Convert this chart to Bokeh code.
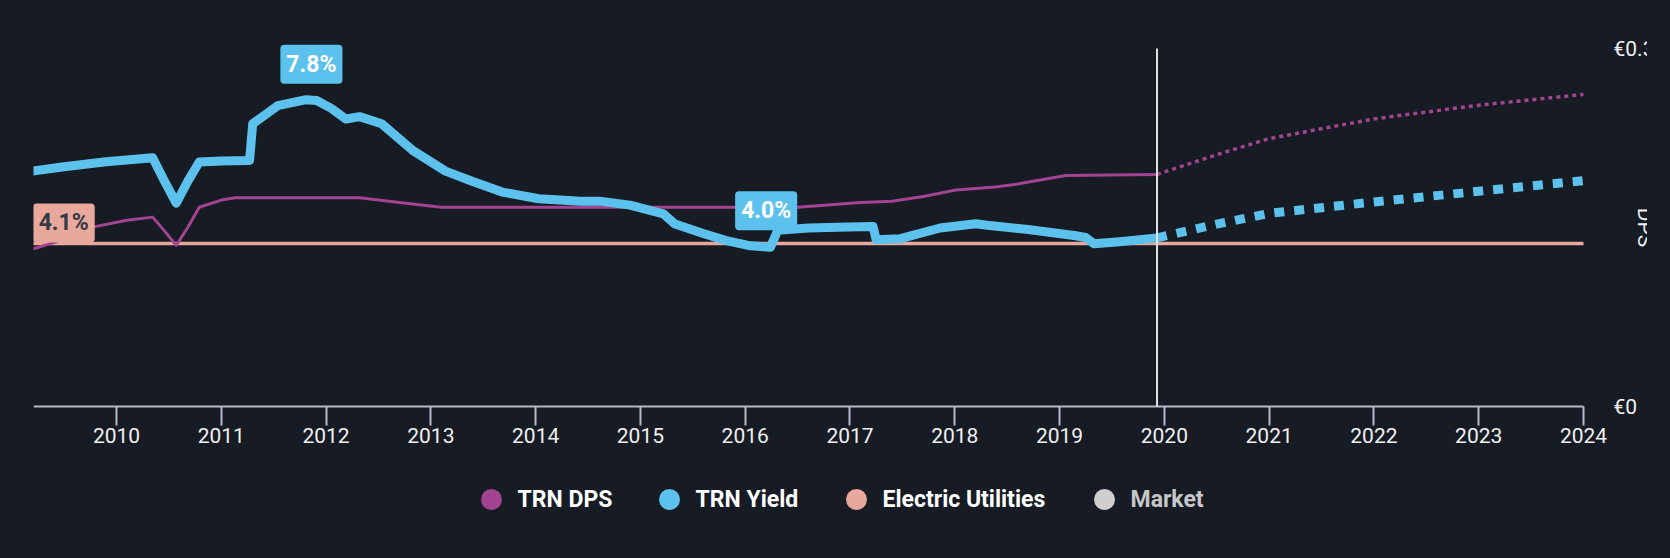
import math
from bokeh.plotting import figure
from bokeh.models import Range1d, FixedTicker, Label
from bokeh.layouts import column
from bokeh.embed import file_html
from bokeh.resources import INLINE
from bokeh.core.properties import value

# ---------------- data ----------------
yield_years = [2009.20, 2009.50, 2009.90, 2010.345, 2010.45, 2010.57, 2010.68, 2010.79, 2011.00,
               2011.27, 2011.30, 2011.54, 2011.81, 2011.91, 2012.05, 2012.19, 2012.32, 2012.53,
               2012.83, 2013.14, 2013.40, 2013.68, 2014.03, 2014.43, 2014.61, 2014.90, 2015.22,
               2015.33, 2015.60, 2015.82, 2016.05, 2016.24, 2016.31, 2016.60, 2016.88, 2017.22,
               2017.25, 2017.48, 2017.86, 2018.20, 2018.31, 2018.70, 2019.14, 2019.25, 2019.33,
               2019.60, 2019.93]
yield_vals = [5.96, 6.07, 6.20, 6.30, 5.75, 5.15, 5.70, 6.19, 6.22,
              6.23, 7.16, 7.62, 7.77, 7.75, 7.55, 7.28, 7.34, 7.16,
              6.48, 5.96, 5.70, 5.43, 5.26, 5.20, 5.20, 5.10, 4.88,
              4.62, 4.38, 4.20, 4.07, 4.03, 4.46, 4.52, 4.54, 4.56,
              4.22, 4.25, 4.52, 4.63, 4.59, 4.48, 4.33, 4.28, 4.12,
              4.18, 4.27]

yield_fc_years = [2019.93, 2020.5, 2021.0, 2022.0, 2023.0, 2024.0]
yield_fc_vals = [4.27, 4.62, 4.89, 5.18, 5.45, 5.72]

dps_years = [2009.20, 2009.42, 2009.77, 2010.10, 2010.345, 2010.45, 2010.57, 2010.68, 2010.79,
             2011.00, 2011.13, 2012.32, 2012.70, 2013.10, 2016.50, 2017.10, 2017.40, 2017.70,
             2018.01, 2018.39, 2018.61, 2019.06, 2019.93]
dps_vals = [0.132, 0.1377, 0.1503, 0.156, 0.1587, 0.148, 0.135, 0.150, 0.167,
            0.173, 0.175, 0.175, 0.171, 0.167, 0.167, 0.171, 0.172, 0.176,
            0.1815, 0.184, 0.1866, 0.1936, 0.1945]

dps_fc_years = [2019.93, 2020.5, 2021.0, 2022.0, 2023.0, 2024.0]
dps_fc_vals = [0.1945, 0.211, 0.2245, 0.241, 0.2525, 0.2615]

industry_years = [2009.20, 2024.0]
industry_vals = [4.13, 4.13]

forecast_start = 2019.93
x_start, x_end = 2009.208, 2024.0
x_ticks = list(range(2010, 2025))
dps_ticks = [0.0, 0.3]
dps_tick_labels = ["€0", "€0.3"]
dps_axis_title = "DPS"

label_peak = ("7.8%", 2011.86, 7.77)
label_now = ("4.0%", 2016.20, 4.03)
label_ind = ("4.1%", 2009.20, 4.13)

legend_names = ["TRN DPS", "TRN Yield", "Electric Utilities", "Market"]

# ---------------- style ----------------
BG = "#161b24"
BLUE = "#5cc1ec"
PURPLE = "#a2448f"
SALMON = "#e8a99c"
MARKET = "#cfcfcf"
AXIS = "#b5bcc9"
TXT = "#f0f0f0"
FONT = "Roboto"

W = 1647
LEFT, TOP = 33, 30
FRAME_W, FRAME_H = 1614, 388
PX_PER_YEAR = 1550 / (x_end - x_start)
ZERO_PAD = 12            # px of frame below the zero line
PLOT_H = 358             # px between zero line and the 0.3 / 9.07% line
TOP_PAD = FRAME_H - ZERO_PAD - PLOT_H
yield_top = 9.066
dps_top = 0.3

y_yield = Range1d(-ZERO_PAD * yield_top / PLOT_H, yield_top + TOP_PAD * yield_top / PLOT_H)
y_dps = Range1d(-ZERO_PAD * dps_top / PLOT_H, dps_top + TOP_PAD * dps_top / PLOT_H)

p = figure(width=W, height=456, output_backend="svg", toolbar_location=None,
           x_range=Range1d(x_start, x_start + FRAME_W / PX_PER_YEAR), y_range=y_yield,
           x_axis_location="below", y_axis_location=None,
           min_border_left=LEFT, min_border_right=0, min_border_top=TOP, min_border_bottom=38,
           background_fill_color=BG, border_fill_color=BG, outline_line_color=None)
p.frame_width = FRAME_W
p.frame_height = FRAME_H
p.extra_y_ranges = {"dps": y_dps}
p.grid.visible = False

ax = p.xaxis[0]
ax.ticker = FixedTicker(ticks=x_ticks)
ax.axis_line_color = None
ax.major_tick_line_color = AXIS
ax.major_tick_line_width = 2
ax.major_tick_out = 7
ax.major_tick_in = ZERO_PAD
ax.minor_tick_out = 0
ax.minor_tick_in = 0
ax.major_label_standoff = 2
ax.major_label_text_font = FONT
ax.major_label_text_font_size = "21px"
ax.major_label_text_color = TXT

# axis base line
p.segment(x0=[x_start], y0=[0], x1=[x_end], y1=[0], line_color=AXIS, line_width=2)

# industry line
p.line(industry_years, industry_vals, line_color=SALMON, line_width=3.5)
# DPS
p.line(dps_years, dps_vals, y_range_name="dps", line_color=PURPLE, line_width=3,
       line_join="round", line_cap="round")
p.line(dps_fc_years, dps_fc_vals, y_range_name="dps", line_color=PURPLE, line_width=3.5,
       line_dash="4 4")
# Yield
p.line(yield_years, yield_vals, line_color=BLUE, line_width=9,
       line_join="round", line_cap="round")
p.line(yield_fc_years, yield_fc_vals, line_color=BLUE, line_width=9, line_dash="10 10")

# "today" marker
p.segment(x0=[forecast_start], y0=[0], x1=[forecast_start], y1=[dps_top], y_range_name="dps",
          line_color="#e2e2e2", line_width=2)

def box_label(txt, x, y, bg, color, anchor, xo, yo):
    return Label(x=x, y=y, text=txt, x_offset=xo, y_offset=yo, anchor=anchor,
                 text_font=FONT, text_font_size="23px", text_font_style="bold",
                 text_color=color, background_fill_color=bg, border_radius=4,
                 padding=dict(x=6, y=6))

p.add_layout(box_label(label_peak[0], label_peak[1], label_peak[2], BLUE, "#ffffff", "bottom_center", 0, 16))
p.add_layout(box_label(label_now[0], label_now[1], label_now[2], BLUE, "#ffffff", "bottom_center", 0, 17))
p.add_layout(box_label(label_ind[0], label_ind[1], label_ind[2], SALMON, "#343a46", "bottom_left", 0, 1))

# right-side DPS scale (drawn inside the frame so it is cut at the edge like the original)
p.text(x=[x_end] * len(dps_ticks), y=dps_ticks, text=dps_tick_labels, y_range_name="dps",
       x_offset=30, text_align="left", text_baseline="middle",
       text_font=value(FONT), text_font_size="21px", text_color=TXT)
p.text(x=[x_end], y=[dps_top / 2], text=[dps_axis_title], y_range_name="dps",
       x_offset=61, angle=-math.pi / 2, text_align="center", text_baseline="middle",
       text_font=value(FONT), text_font_size="21px", text_color=TXT)

# ---------------- legend ----------------
LH = 102
lg = figure(width=W, height=LH, output_backend="svg", toolbar_location=None,
            x_range=Range1d(LEFT, W), y_range=Range1d(0, LH),
            x_axis_location=None, y_axis_location=None,
            min_border_left=LEFT, min_border_right=0, min_border_top=0, min_border_bottom=0,
            background_fill_color=BG, border_fill_color=BG, outline_line_color=None)
lg.frame_width = FRAME_W
lg.frame_height = LH
lg.grid.visible = False
leg_x = [491, 669, 856, 1104]
leg_y = 59
leg_colors = [PURPLE, BLUE, SALMON, MARKET]
leg_text_colors = ["#ffffff", "#ffffff", "#ffffff", "#c8c8c8"]
lg.scatter(x=leg_x, y=[leg_y] * 4, size=21, color=leg_colors, line_color=None)
lg.text(x=[v + 26 for v in leg_x], y=[leg_y] * 4, text=legend_names,
        text_color=leg_text_colors, text_font=value(FONT), text_font_size="23px",
        text_font_style="bold", text_baseline="middle", text_align="left")

layout = column(p, lg, spacing=0, styles={"background-color": BG})
html = file_html(layout, INLINE)
html = html.replace("<head>", "<head><style>html,body{background:%s;}</style>" % BG, 1)
open("out.html", "w").write(html)
